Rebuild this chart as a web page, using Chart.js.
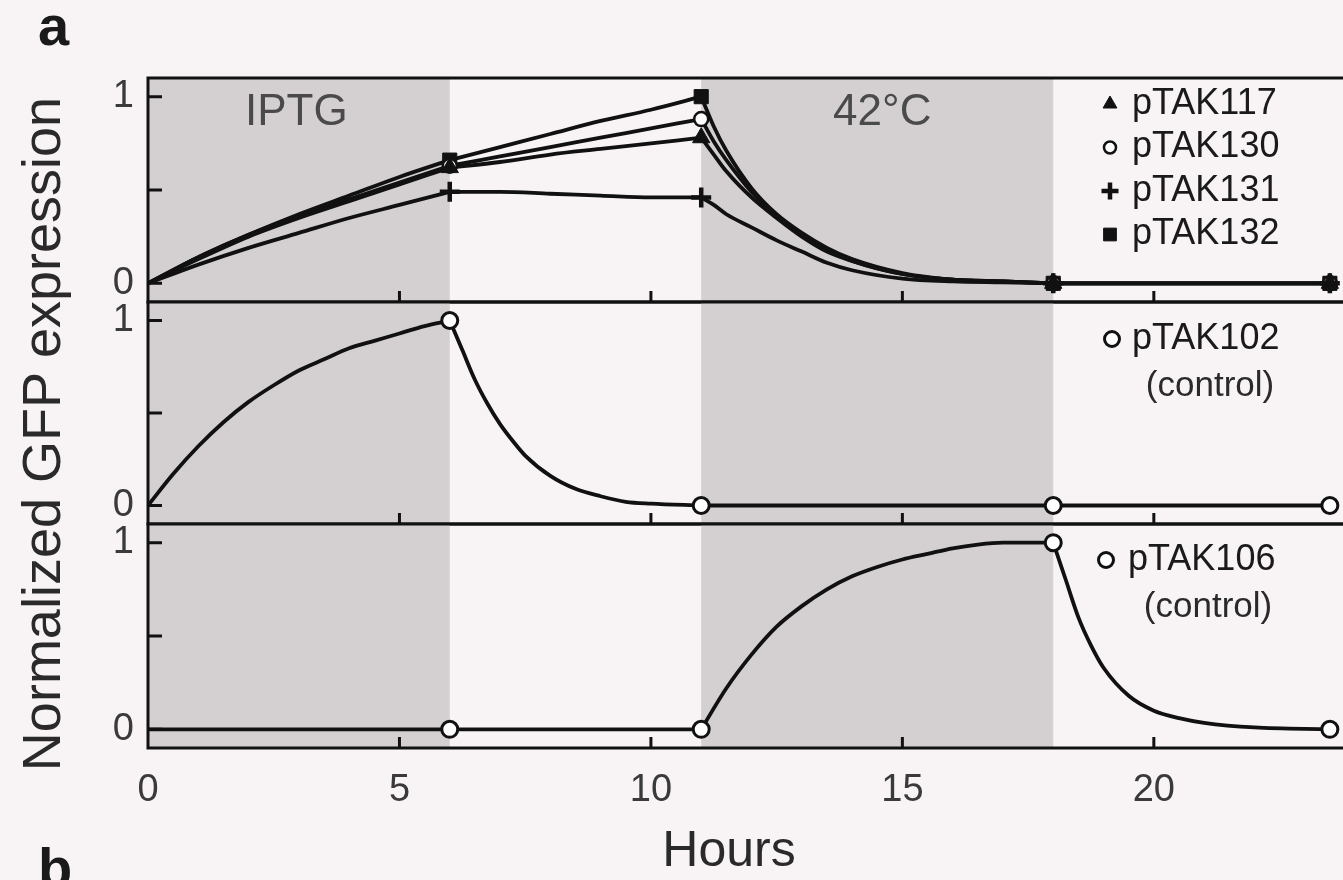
<!DOCTYPE html>
<html lang="en">
<head>
<meta charset="UTF-8">
<title>GFP expression time course</title>
<script src="https://cdn.jsdelivr.net/npm/chart.js@4.4.1/dist/chart.umd.min.js"></script>
<style>
  html, body { margin: 0; overflow: hidden; }
  body {
    width: 1343px; height: 880px; position: relative;
    background: #f8f4f5;
    font-family: "Liberation Sans", Arial, Helvetica, sans-serif;
  }
  canvas { position: absolute; left: 0; }
  .txt { position: absolute; line-height: 1; white-space: nowrap; color: #1a1a1a; }
  .tag { font-weight: bold; font-size: 56px; left: 38px; }
  .hours { font-size: 50px; left: 729px; top: 824px; transform: translateX(-50%); color: #2a2a2a; }
  .ytitle { font-size: 54px; left: 41px; top: 434px; transform: translate(-50%, -50%) rotate(-90deg); color: #2a2a2a; }
</style>
</head>
<body>
<div class="txt tag" style="top:-2px">a</div>
<div class="txt tag" style="top:840px">b</div>
<div class="txt ytitle">Normalized GFP expression</div>
<div class="txt hours">Hours</div>

<canvas id="panel1" width="1380" height="264" style="top:58px"></canvas>
<canvas id="panel2" width="1380" height="262" style="top:282px"></canvas>
<canvas id="panel3" width="1380" height="376" style="top:504px"></canvas>

<script>
// axis ticks and treatment windows
const tickHours = [0, 5, 10, 15, 20];
const levelTicks = [0, 0.5, 1];
const bandFrom = [0, 11];
const bandTo = [6, 18];
const bandNames = ['IPTG', '42°C'];
const markerHours = [6, 11, 18, 23.5];
const phaseBreaks = [6, 11, 18];

// top panel: four toggle plasmids on one time grid
const hoursA = [0, 1, 2, 3, 4, 5, 6, 7, 8, 9, 10, 11, 11.25, 11.5, 12, 12.5, 13, 13.5, 14, 15, 16, 17, 18, 23.5];
const pTAK117 = [0, 0.13, 0.25, 0.35, 0.44, 0.53, 0.62, 0.65, 0.69, 0.72, 0.75, 0.78, 0.69, 0.60, 0.46, 0.35, 0.25, 0.17, 0.12, 0.05, 0.02, 0.01, 0, 0];
const pTAK130 = [0, 0.14, 0.26, 0.36, 0.45, 0.54, 0.63, 0.68, 0.73, 0.78, 0.83, 0.88, 0.76, 0.66, 0.49, 0.36, 0.26, 0.18, 0.12, 0.05, 0.02, 0.01, 0, 0];
const pTAK131 = [0, 0.10, 0.19, 0.27, 0.35, 0.42, 0.49, 0.49, 0.48, 0.47, 0.46, 0.46, 0.42, 0.37, 0.30, 0.23, 0.17, 0.11, 0.07, 0.025, 0.01, 0.005, 0, 0];
const pTAK132 = [0, 0.14, 0.26, 0.37, 0.47, 0.57, 0.66, 0.73, 0.80, 0.87, 0.93, 1.0, 0.84, 0.71, 0.51, 0.37, 0.27, 0.19, 0.13, 0.055, 0.02, 0.01, 0, 0];

// middle panel: IPTG-only control
const hours102 = [0, 0.5, 1, 1.5, 2, 2.5, 3, 3.5, 4, 4.5, 5, 5.5, 6, 6.25, 6.5, 6.75, 7, 7.25, 7.5, 8, 8.5, 9, 9.5, 10, 11, 18, 23.5];
const pTAK102 = [0, 0.17, 0.32, 0.45, 0.56, 0.65, 0.73, 0.79, 0.85, 0.89, 0.93, 0.97, 1.0, 0.84, 0.68, 0.55, 0.44, 0.35, 0.27, 0.16, 0.09, 0.05, 0.02, 0.01, 0, 0, 0];

// bottom panel: heat-only control
const hours106 = [0, 6, 11, 11.5, 12, 12.5, 13, 13.5, 14, 14.5, 15, 15.5, 16, 16.5, 17, 18, 18.25, 18.5, 18.75, 19, 19.5, 20, 20.5, 21, 22, 23.5];
const pTAK106 = [0, 0, 0, 0.22, 0.40, 0.55, 0.66, 0.75, 0.82, 0.87, 0.91, 0.94, 0.97, 0.99, 1.0, 1.0, 0.80, 0.60, 0.45, 0.33, 0.18, 0.10, 0.06, 0.035, 0.01, 0];

const INK = '#111';
const FONT = '"Liberation Sans", Arial, Helvetica, sans-serif';
Chart.defaults.font.family = FONT;

const styles = {
  pTAK117: { shape: 'triangle', r: 10, bw: 1, fill: INK, legendR: 8 },
  pTAK130: { shape: 'circle', r: 7, bw: 2.5, fill: '#fff', legendR: 6 },
  pTAK131: { shape: 'cross', r: 10, bw: 4.5, fill: INK, legendR: 8.5 },
  pTAK132: { shape: 'rect', r: 10, bw: 1, fill: INK, legendR: 9 },
  control: { shape: 'circle', r: 8, bw: 3, fill: '#fff', legendR: 7.5 }
};

// split a curve at the treatment switches so the corners stay sharp
function phases(hrs, vals) {
  const cuts = [hrs[0], ...phaseBreaks, hrs[hrs.length - 1]];
  const out = [];
  for (let k = 0; k < cuts.length - 1; k++) {
    const seg = [];
    hrs.forEach((h, i) => {
      if (h >= cuts[k] && h <= cuts[k + 1]) seg.push({ x: h, y: vals[i] });
    });
    if (seg.length > 1) out.push(seg);
  }
  return out;
}

function curveSets(hrs, vals, st) {
  const sets = phases(hrs, vals).map(seg => ({
    data: seg,
    borderColor: INK,
    borderWidth: 3.8,
    pointRadius: 0,
    cubicInterpolationMode: 'monotone',
    fill: false,
    order: 1
  }));
  const marks = hrs.map((h, i) => ({ x: h, y: vals[i] })).filter(p => markerHours.includes(p.x));
  sets.push({
    data: marks,
    showLine: false,
    pointStyle: st.shape,
    pointRadius: st.r,
    pointBorderWidth: st.bw,
    pointBackgroundColor: st.fill,
    pointBorderColor: INK,
    order: 0
  });
  return sets;
}

function drawSymbol(ctx, st, x, y) {
  ctx.fillStyle = st.fill;
  ctx.strokeStyle = INK;
  ctx.lineWidth = st.bw;
  Chart.helpers.drawPoint(ctx, { pointStyle: st.shape, radius: st.legendR, borderWidth: st.bw, rotation: 0 }, x, y);
}

const panelPlugin = {
  id: 'panel',
  beforeDatasetsDraw(chart, args, opts) {
    const { ctx, chartArea: a, scales: { x } } = chart;
    ctx.save();
    ctx.fillStyle = '#d4d0d1';
    bandFrom.forEach((from, i) => {
      const l = x.getPixelForValue(from);
      const r = x.getPixelForValue(bandTo[i]);
      ctx.fillRect(l, a.top, r - l, a.bottom - a.top);
    });
    if (opts.bandLabels) {
      ctx.fillStyle = '#4a4a4a';
      ctx.font = '44px ' + FONT;
      ctx.textAlign = 'center';
      ctx.textBaseline = 'alphabetic';
      bandNames.forEach((name, i) => {
        const cx = x.getPixelForValue(opts.bandLabelAt[i]);
        ctx.fillText(name, cx, a.top + 47);
      });
    }
    ctx.restore();
  },
  afterDatasetsDraw(chart, args, opts) {
    const { ctx, chartArea: a, scales: { x, y } } = chart;
    ctx.save();
    ctx.strokeStyle = INK;
    ctx.lineWidth = 3;
    ctx.beginPath();
    x.ticks.forEach(t => {
      if (t.value === 0) return;
      const px = x.getPixelForValue(t.value);
      ctx.moveTo(px, a.bottom);
      ctx.lineTo(px, a.bottom - 11);
    });
    y.ticks.forEach(t => {
      const py = y.getPixelForValue(t.value);
      ctx.moveTo(a.left, py);
      ctx.lineTo(a.left + 14, py);
    });
    ctx.stroke();
    ctx.strokeRect(a.left, a.top, a.right - a.left, a.bottom - a.top);

    // key in the upper right of the panel
    ctx.font = '36px ' + FONT;
    ctx.textBaseline = 'middle';
    (opts.key || []).forEach((k, i) => {
      const cy = a.top + opts.keyTop + i * opts.keyStep;
      drawSymbol(ctx, styles[k.style], opts.keySymbolX, cy);
      ctx.fillStyle = '#1a1a1a';
      ctx.textAlign = 'left';
      ctx.fillText(k.label, opts.keyTextX, cy);
    });
    if (opts.note) {
      ctx.font = '35px ' + FONT;
      ctx.fillStyle = '#2a2a2a';
      ctx.textAlign = 'center';
      ctx.fillText(opts.note, opts.noteX, a.top + opts.noteTop);
    }
    ctx.restore();
  }
};

function makePanel(id, datasets, bottomAxis, plug) {
  return new Chart(document.getElementById(id), {
    type: 'line',
    data: { datasets: datasets },
    plugins: [panelPlugin],
    options: {
      responsive: false,
      devicePixelRatio: 1,
      animation: false,
      events: [],
      layout: { padding: { top: 20, bottom: bottomAxis ? 0 : 20, left: 0, right: 25 } },
      plugins: { legend: { display: false }, tooltip: { enabled: false }, panel: plug },
      scales: {
        x: {
          type: 'linear', min: 0, max: 24,
          afterBuildTicks: s => { s.ticks = tickHours.map(v => ({ value: v })); },
          afterFit: s => { s.height = bottomAxis ? 132 : 0; s.paddingLeft = 0; s.paddingRight = 0; },
          border: { display: false },
          grid: { display: false, drawTicks: false },
          ticks: {
            display: bottomAxis, padding: 20, autoSkip: false, maxRotation: 0,
            color: '#3a3a3a', font: { size: 38 }
          }
        },
        y: {
          min: -0.1, max: 1.1,
          afterBuildTicks: s => { s.ticks = levelTicks.map(v => ({ value: v })); },
          afterFit: s => { s.width = 148; s.paddingTop = 0; s.paddingBottom = 0; },
          border: { display: false },
          grid: { display: false, drawTicks: false },
          ticks: {
            padding: 14, color: '#3a3a3a', font: { size: 38 },
            callback: v => (v === 0.5 ? '' : String(v))
          }
        }
      }
    }
  });
}

makePanel('panel1', [
  ...curveSets(hoursA, pTAK131, styles.pTAK131),
  ...curveSets(hoursA, pTAK117, styles.pTAK117),
  ...curveSets(hoursA, pTAK130, styles.pTAK130),
  ...curveSets(hoursA, pTAK132, styles.pTAK132)
], false, {
  bandLabels: true, bandLabelAt: [2.95, 14.6],
  key: [
    { label: 'pTAK117', style: 'pTAK117' },
    { label: 'pTAK130', style: 'pTAK130' },
    { label: 'pTAK131', style: 'pTAK131' },
    { label: 'pTAK132', style: 'pTAK132' }
  ],
  keyTop: 26, keyStep: 43.5, keySymbolX: 1110, keyTextX: 1132
});

makePanel('panel2', curveSets(hours102, pTAK102, styles.control), false, {
  key: [{ label: 'pTAK102', style: 'control' }],
  keyTop: 37, keyStep: 0, keySymbolX: 1112, keyTextX: 1132,
  note: '(control)', noteX: 1210, noteTop: 84
});

makePanel('panel3', curveSets(hours106, pTAK106, styles.control), true, {
  key: [{ label: 'pTAK106', style: 'control' }],
  keyTop: 36, keyStep: 0, keySymbolX: 1106, keyTextX: 1128,
  note: '(control)', noteX: 1208, noteTop: 83
});
</script>
</body>
</html>
